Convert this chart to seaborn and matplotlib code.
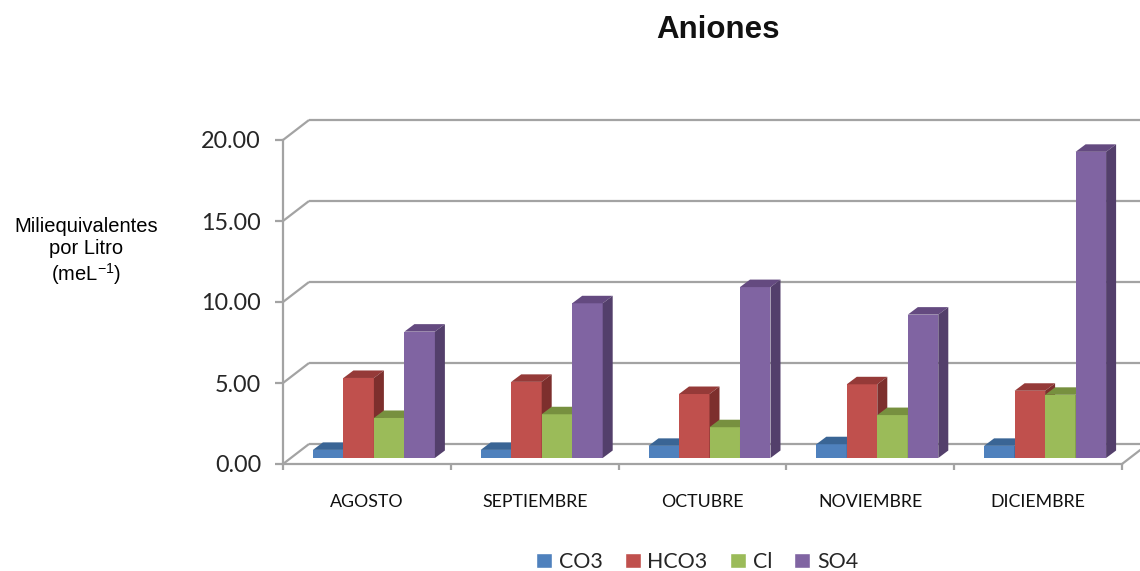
import pandas as pd
import seaborn as sns
import matplotlib.pyplot as plt
from matplotlib.patches import Polygon
from matplotlib.transforms import ScaledTranslation

months = ['AGOSTO', 'SEPTIEMBRE', 'OCTUBRE', 'NOVIEMBRE', 'DICIEMBRE']
co3 = [0.50, 0.50, 0.75, 0.85, 0.75]
hco3 = [4.94, 4.70, 3.95, 4.55, 4.15]
cl = [2.47, 2.70, 1.90, 2.65, 3.90]
so4 = [7.80, 9.55, 10.55, 8.85, 18.90]
y_ticks = [0, 5, 10, 15, 20]

ions = ['CO3', 'HCO3', 'Cl', 'SO4']
front_colors = ['#4f81bd', '#c0504d', '#9bbb59', '#8064a2']
top_colors = ['#3a6595', '#953a38', '#77903f', '#644a80']
side_colors = ['#2f5380', '#7d2f2d', '#62783a', '#533f6b']
GREY = '#a3a3a3'

W, H = 1140, 571

sns.set_theme(style='white')
plt.rcParams['font.family'] = ['Lato', 'DejaVu Sans']
plt.rcParams['mathtext.fontset'] = 'custom'
plt.rcParams['mathtext.rm'] = 'Liberation Sans'
plt.rcParams['mathtext.default'] = 'rm'

df = pd.DataFrame({'mes': months, 'CO3': co3, 'HCO3': hco3, 'Cl': cl, 'SO4': so4})
df = df.melt(id_vars='mes', var_name='ion', value_name='valor')

fig = plt.figure(figsize=(W / 100, H / 100), dpi=100)
# front plane of the fake 3D box
ax = fig.add_axes([283 / W, 1 - 464 / H, 839 / W, 324 / H])

sns.barplot(data=df, x='mes', y='valor', hue='ion', hue_order=ions, order=months,
            palette=front_colors, saturation=1, width=0.727, gap=0, ax=ax)
ax.set_xlim(-0.5, 4.5)
ax.set_ylim(0, 20)


def shifted(dx, dy):
    # same data scale, moved back into the box by some pixels
    return ax.transData + ScaledTranslation(dx / 100, dy / 100, fig.dpi_scale_trans)


def diagonal(x, y, trans_to):
    # line from the front plane to another plane, in figure coords
    to_fig = fig.transFigure.inverted()
    line = Polygon([to_fig.transform(ax.transData.transform((x, y))),
                    to_fig.transform(trans_to.transform((x, y)))],
                   closed=False, fill=False, edgecolor=GREY, lw=1.6,
                   transform=fig.transFigure, clip_on=False, zorder=1)
    fig.add_artist(line)


# back wall and floor
back = shifted(26, 20)
ax.hlines(y_ticks, -0.5, 4.5, color=GREY, lw=1.6, transform=back, clip_on=False, zorder=1)
for tick in y_ticks:
    diagonal(-0.5, tick, back)
diagonal(4.5, 0, back)

# bars sit inside the box, with a top and a side face
bar_plane = shifted(7, 6)
depth_x, depth_y = 10 / 167.8, 7.5 / 16.2
for i, container in enumerate(ax.containers):
    for bar in container:
        x0, w, h = bar.get_x(), bar.get_width(), bar.get_height()
        x1 = x0 + w
        bar.set_transform(bar_plane)
        bar.set_clip_on(False)
        bar.set_linewidth(0)
        bar.set_zorder(3 + i)
        ax.add_patch(Polygon([(x0, h), (x1, h), (x1 + depth_x, h + depth_y), (x0 + depth_x, h + depth_y)],
                             facecolor=top_colors[i], lw=0, transform=bar_plane,
                             clip_on=False, zorder=3 + i))
        ax.add_patch(Polygon([(x1, 0), (x1 + depth_x, depth_y), (x1 + depth_x, h + depth_y), (x1, h)],
                             facecolor=side_colors[i], lw=0, transform=bar_plane,
                             clip_on=False, zorder=3 + i))

sns.despine(ax=ax)
for side in ['left', 'bottom']:
    ax.spines[side].set_color(GREY)
    ax.spines[side].set_linewidth(1.6)

ax.set_xlabel('')
ax.set_ylabel('')
ax.set_yticks(y_ticks)
ax.set_yticklabels([f'{t:.2f}' for t in y_ticks], fontsize=16.8, color='#262626')
ax.tick_params(axis='y', length=5.8, width=1.6, color=GREY, left=True, pad=10)
ax.set_xticks(range(len(months)))
ax.set_xticklabels(months, fontsize=12.8, color='#111111')
ax.set_xticks([i - 0.5 for i in range(len(months) + 1)], minor=True)
ax.tick_params(axis='x', which='major', length=0, pad=21.5)
ax.tick_params(axis='x', which='minor', length=4.5, width=1.6, color=GREY, bottom=True)

sns.move_legend(ax, 'center', bbox_to_anchor=(697 / W, 1 - 562 / H),
                bbox_transform=fig.transFigure, ncol=4, frameon=False, title=None,
                fontsize=15.4, handlelength=0.75, handleheight=0.7, handletextpad=0.3,
                columnspacing=1.05, labelcolor='#262626')

fig.text(718 / W, 1 - 29.5 / H, 'Aniones', ha='center', va='center', family='Liberation Sans',
         fontsize=22.5, fontweight='bold', color='#111111')
fig.text(86 / W, 1 - 252 / H, 'Miliequivalentes\npor Litro\n(meL$^{-1}$)', ha='center',
         va='center', fontsize=14.5, family='Liberation Sans', color='black', linespacing=1.2)

plt.savefig('out.png', dpi=100)
plt.close()
